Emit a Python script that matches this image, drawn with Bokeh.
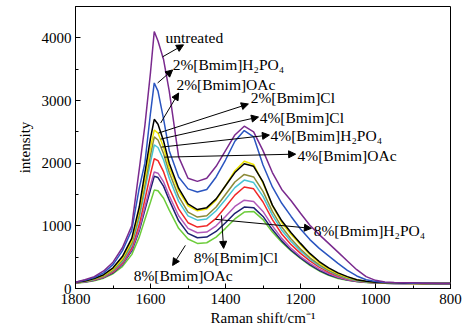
from bokeh.plotting import figure
from bokeh.models import Range1d, SingleIntervalTicker, Arrow, NormalHead, ColumnDataSource
from bokeh.core.properties import value
from bokeh.embed import file_html
from bokeh.resources import INLINE

# Raman shift (cm^-1)
shift = [1800, 1775, 1750, 1725, 1700, 1675, 1650, 1630, 1615, 1600, 1590, 1580, 1565, 1550,
         1525, 1500, 1475, 1450, 1425, 1400, 1375, 1350, 1325, 1300, 1275, 1250, 1225, 1200,
         1175, 1150, 1125, 1100, 1075, 1050, 1025, 1000, 975, 950, 925, 900, 875, 850, 825, 800]

untreated = [100, 140, 190, 280, 420, 650, 1000, 1900, 2600, 3450, 4100, 3950, 3650, 3150,
             2100, 1760, 1710, 1760, 1950, 2200, 2450, 2590, 2500, 2200, 1850, 1580, 1400, 1200,
             1010, 860, 720, 580, 440, 300, 190, 130, 105, 95, 90, 90, 85, 85, 80, 80]
h2po4_2 = [100, 130, 175, 250, 380, 600, 930, 1600, 2000, 2800, 3280, 3150, 2700, 2200,
           1780, 1590, 1540, 1580, 1780, 2050, 2350, 2520, 2420, 1970, 1620, 1360, 1150, 950,
           780, 640, 520, 400, 290, 200, 140, 110, 95, 90, 90, 85, 85, 80, 80, 80]
oac_2 = [100, 120, 160, 220, 330, 510, 800, 1300, 1850, 2400, 2700, 2620, 2350, 2000,
         1600, 1350, 1260, 1290, 1430, 1640, 1850, 1990, 1950, 1700, 1330, 1080, 890, 720,
         560, 430, 330, 250, 190, 140, 115, 100, 90, 90, 85, 85, 80, 80, 80, 80]
cl_2 = [100, 120, 155, 210, 310, 480, 760, 1250, 1750, 2250, 2530, 2480, 2250, 1930,
        1560, 1320, 1240, 1270, 1410, 1640, 1880, 2030, 1980, 1680, 1320, 1050, 860, 700,
        540, 410, 310, 240, 180, 140, 115, 100, 90, 85, 85, 80, 80, 80, 80, 80]
cl_4 = [95, 115, 150, 200, 295, 450, 720, 1180, 1650, 2130, 2420, 2370, 2150, 1850,
        1470, 1220, 1140, 1160, 1300, 1500, 1700, 1820, 1780, 1550, 1230, 980, 790, 630,
        490, 380, 290, 220, 170, 130, 110, 95, 90, 85, 85, 80, 80, 80, 80, 80]
h2po4_4 = [95, 110, 145, 195, 285, 430, 690, 1120, 1570, 2020, 2290, 2250, 2050, 1760,
           1390, 1160, 1090, 1110, 1240, 1420, 1610, 1730, 1690, 1470, 1170, 930, 750, 600,
           470, 360, 280, 210, 160, 125, 105, 95, 90, 85, 80, 80, 80, 80, 80, 80]
oac_4 = [90, 110, 140, 185, 270, 410, 650, 1020, 1420, 1830, 2070, 2040, 1860, 1600,
         1270, 1050, 980, 1000, 1120, 1300, 1490, 1620, 1590, 1380, 1100, 870, 700, 560,
         440, 340, 260, 200, 150, 120, 100, 95, 85, 85, 80, 80, 80, 80, 80, 80]
h2po4_8 = [90, 105, 135, 180, 260, 390, 620, 950, 1300, 1650, 1860, 1840, 1700, 1480,
           1160, 960, 890, 900, 1000, 1150, 1310, 1410, 1390, 1230, 1000, 800, 640, 510,
           400, 310, 240, 180, 140, 115, 100, 90, 85, 80, 80, 80, 80, 80, 80, 80]
cl_8 = [90, 105, 130, 175, 250, 380, 600, 920, 1250, 1580, 1790, 1770, 1630, 1410,
        1080, 880, 810, 820, 910, 1050, 1200, 1300, 1290, 1150, 940, 760, 610, 490,
        380, 290, 220, 170, 135, 110, 100, 90, 85, 80, 80, 80, 80, 80, 80, 80]
oac_8 = [85, 100, 125, 165, 235, 350, 540, 820, 1100, 1380, 1570, 1560, 1440, 1250,
         960, 790, 720, 730, 820, 960, 1110, 1220, 1230, 1100, 900, 740, 600, 480,
         370, 280, 210, 160, 130, 110, 95, 90, 85, 80, 80, 80, 80, 80, 80, 80]

labels = ["untreated", "2%[Bmim]H₂PO₄", "2%[Bmim]OAc", "2%[Bmim]Cl", "4%[Bmim]Cl",
          "4%[Bmim]H₂PO₄", "4%[Bmim]OAc", "8%[Bmim]H₂PO₄", "8%[Bmim]Cl", "8%[Bmim]OAc"]
series = [untreated, h2po4_2, oac_2, cl_2, cl_4, h2po4_4, oac_4, h2po4_8, cl_8, oac_8]
colors = ["#7a2a8e", "#2a55c0", "#000000", "#ece400", "#8c8a38", "#48c4d4",
          "#f02828", "#b058b8", "#1c2070", "#6ccc3a"]

# annotation placement (data units)
label_x = [1560, 1541, 1531, 1333, 1309, 1280, 1208, 1165, 1485, 1645]
label_y = [4000, 3568, 3248, 3040, 2736, 2448, 2128, 928, 496, 208]
arrow_x0 = [1568, 1581, 1573, 1579, 1573, 1571, 1563, 1427, 1411, 1507]
arrow_y0 = [3696, 3280, 2640, 2480, 2384, 2256, 2096, 1104, 1168, 688]
arrow_x1 = [1512, 1541, 1525, 1339, 1312, 1283, 1213, 1171, 1405, 1541]
arrow_y1 = [3888, 3488, 3120, 2944, 2736, 2448, 2144, 960, 640, 368]

FONT = "Liberation Serif"

p = figure(width=468, height=335, output_backend="svg", toolbar_location=None,
           x_range=Range1d(1800, 800), y_range=Range1d(0, 4500),
           min_border_left=75, min_border_right=18, min_border_top=6, min_border_bottom=47,
           background_fill_color="white", border_fill_color="white")

for vals, c in zip(series[::-1], colors[::-1]):
    p.line(shift, vals, line_color=c, line_width=1.5)

p.xgrid.visible = False
p.ygrid.visible = False
p.outline_line_color = "black"
p.outline_line_width = 1
p.outline_line_alpha = 1

p.xaxis.ticker = SingleIntervalTicker(interval=200, num_minor_ticks=2)
p.yaxis.ticker = SingleIntervalTicker(interval=1000, num_minor_ticks=2)
for ax in (p.xaxis[0], p.yaxis[0]):
    ax.major_tick_in = 5
    ax.major_tick_out = 0
    ax.minor_tick_in = 3
    ax.minor_tick_out = 0
    ax.axis_line_color = "black"
    ax.major_tick_line_color = "black"
    ax.minor_tick_line_color = "black"
    ax.major_label_text_font = FONT
    ax.major_label_text_font_size = "15px"
    ax.major_label_text_color = "black"
    ax.axis_label_text_font = FONT
    ax.axis_label_text_font_size = "15px"
    ax.axis_label_text_font_style = "normal"
    ax.axis_label_text_color = "black"

p.xaxis.axis_label = "Raman shift/cm⁻¹"
p.yaxis.axis_label = "intensity"
p.xaxis.major_label_standoff = 5
p.yaxis.major_label_standoff = 4
p.xaxis.axis_label_standoff = 3
p.yaxis.axis_label_standoff = 6

for x0, y0, x1, y1 in zip(arrow_x0, arrow_y0, arrow_x1, arrow_y1):
    p.add_layout(Arrow(x_start=x0, y_start=y0, x_end=x1, y_end=y1, line_color="black",
                       line_width=1,
                       end=NormalHead(size=7, fill_color="black", line_color="black")))

src = ColumnDataSource(dict(x=label_x, y=label_y, t=labels))
p.text(x="x", y="y", text="t", source=src, text_font=value(FONT), text_font_size="15.5px",
       text_color="black", text_align="left", text_baseline="middle")

open("out.html", "w").write(file_html(p, INLINE))
